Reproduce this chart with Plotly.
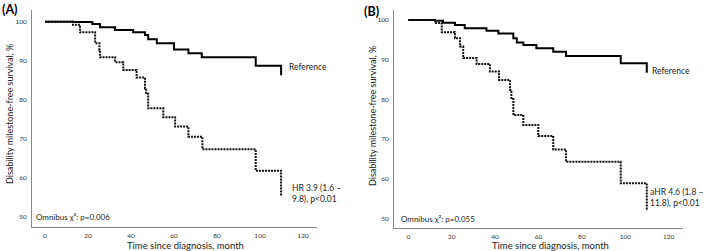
import plotly.graph_objects as go

# Panel A
a_ref_t = [0, 13, 22, 25.6, 32.6, 41, 46.5, 48, 52, 60, 66.7, 72.9, 98, 109.8]
a_ref_s = [100, 99.9, 99.4, 98.6, 97.9, 97.3, 96.6, 95.5, 94.5, 92.9, 91.9, 90.9, 88.7, 86.3]
a_exp_t = [0, 13, 16.3, 23.3, 25.3, 25.6, 32.6, 36.4, 42.6, 46.5, 47, 48, 55, 60.5, 66.7, 73.2, 98, 109.8]
a_exp_s = [100, 99.2, 97.3, 94.5, 92.7, 90.9, 89.6, 87.6, 85.7, 82.9, 81.5, 77.8, 75.5, 73.1, 70.5, 67.3, 61.8, 55.3]

# Panel B
b_ref_t = [0, 12.3, 16, 21.5, 26, 36, 41.5, 48.4, 50, 53, 59, 66.8, 72.7, 97.9, 109.9]
b_ref_s = [100, 99.8, 99.3, 98.7, 97.9, 97.3, 96.6, 95.4, 94.3, 93.7, 92.9, 92.0, 90.9, 89.1, 86.7]
b_exp_t = [0, 12.3, 15.4, 21.5, 23.8, 25.3, 31.5, 37.6, 41.8, 46.9, 47.5, 48.4, 53, 59.9, 66.8, 72.7, 97.9, 109.9]
b_exp_s = [100, 99.2, 96.9, 95.4, 93.3, 90.4, 88.9, 87.0, 84.9, 82.4, 80.1, 76.1, 73.6, 70.8, 67.4, 64.3, 58.9, 52.0]

x_ticks = [0, 20, 40, 60, 80, 100, 120]
y_ticks = [50, 60, 70, 80, 90, 100]

W, H = 709, 251
FONT = "Lato, Liberation Sans, Arial, sans-serif"

fig = go.Figure()

def add_curves(t1, s1, t2, s2, xa, ya):
    fig.add_trace(go.Scatter(x=t1, y=s1, mode="lines", line=dict(color="black", width=2, shape="hv"),
                             xaxis=xa, yaxis=ya, showlegend=False, hoverinfo="skip"))
    fig.add_trace(go.Scatter(x=t2, y=s2, mode="lines", line=dict(color="#111", width=2, shape="hv", dash="2px,1px"),
                             xaxis=xa, yaxis=ya, showlegend=False, hoverinfo="skip"))

add_curves(a_ref_t, a_ref_s, a_exp_t, a_exp_s, "x", "y")
add_curves(b_ref_t, b_ref_s, b_exp_t, b_exp_s, "x2", "y2")

def xaxis(dom, rng, anchor):
    return dict(domain=dom, range=rng, anchor=anchor, tickvals=x_ticks, showgrid=False, zeroline=False,
                showline=True, linecolor="#888", linewidth=1, ticks="outside", ticklen=2, tickcolor="rgba(0,0,0,0)",
                tickfont=dict(size=6.5, color="#333", family=FONT))

def yaxis(dom, rng, anchor):
    return dict(domain=dom, range=rng, anchor=anchor, tickvals=y_ticks, showgrid=False, zeroline=False,
                showline=True, linecolor="#888", linewidth=1, ticks="outside", ticklen=3, tickcolor="rgba(0,0,0,0)",
                tickfont=dict(size=6.5, color="#333", family=FONT))

fig.update_layout(
    width=W, height=H, margin=dict(l=0, r=0, t=0, b=0),
    paper_bgcolor="white", plot_bgcolor="white",
    xaxis=xaxis([32 / W, 317 / W], [-6.05, 126.5], "y"),
    yaxis=yaxis([(H - 227) / H, (H - 10) / H], [47.36, 103.0], "x"),
    xaxis2=xaxis([394 / W, 683 / W], [-6.6, 126.6], "y2"),
    yaxis2=yaxis([(H - 228) / H, (H - 10) / H], [47.66, 102.5], "x2"),
)

ann = []
txt = dict(size=8.5, color="#222", family=FONT)
otxt = dict(size=8, color="#222", family=FONT)
ann += [
    dict(x=112.6, y=88.4, xref="x", yref="y", text="Reference", showarrow=False, xanchor="left", yanchor="middle", font=txt),
    dict(x=114, y=56, xref="x", yref="y", text="HR 3.9 (1.6 –<br>9.8), p<0.01", showarrow=False,
         xanchor="left", yanchor="middle", align="left", font=txt),
    dict(x=-5.1, y=49.9, xref="x", yref="y", text="Omnibus χ²: p=0.006", showarrow=False, xanchor="left",
         yanchor="middle", font=otxt),
    dict(x=111.4, y=87.2, xref="x2", yref="y2", text="Reference", showarrow=False, xanchor="left", yanchor="middle", font=txt),
    dict(x=110.5, y=55.4, xref="x2", yref="y2", text="aHR 4.6 (1.8 –<br>11.8), p<0.01", showarrow=False,
         xanchor="left", yanchor="middle", align="left", font=txt),
    dict(x=-4.3, y=49.9, xref="x2", yref="y2", text="Omnibus χ²: p=0.055", showarrow=False, xanchor="left",
         yanchor="middle", font=otxt),
]
tfont = dict(size=9.5, color="#222", family=FONT)
yfont = dict(size=9, color="#222", family=FONT)
ann += [
    dict(x=125 / W, y=(H - 245) / H, xref="paper", yref="paper", text="Time since diagnosis, month",
         showarrow=False, xanchor="left", yanchor="middle", font=tfont),
    dict(x=490 / W, y=(H - 245) / H, xref="paper", yref="paper", text="Time since diagnosis, month",
         showarrow=False, xanchor="left", yanchor="middle", font=tfont),
    dict(x=9 / W, y=(H - 114) / H, xref="paper", yref="paper", text="Disability milestone-free survival, %",
         showarrow=False, textangle=-90, xanchor="center", yanchor="middle", font=yfont),
    dict(x=372 / W, y=(H - 116) / H, xref="paper", yref="paper", text="Disability milestone-free survival, %",
         showarrow=False, textangle=-90, xanchor="center", yanchor="middle", font=yfont),
    dict(x=0, y=(H - 10) / H, xref="paper", yref="paper", text="<b>(A)</b>", showarrow=False,
         xanchor="left", yanchor="middle", font=dict(size=12.5, color="black", family=FONT)),
    dict(x=362 / W, y=(H - 12) / H, xref="paper", yref="paper", text="<b>(B)</b>", showarrow=False,
         xanchor="left", yanchor="middle", font=dict(size=12.5, color="black", family=FONT)),
]
fig.update_layout(annotations=ann)

fig.write_html("out.html", config={"displayModeBar": False},
               post_script="document.body.style.margin='0';document.body.style.overflow='hidden';")
